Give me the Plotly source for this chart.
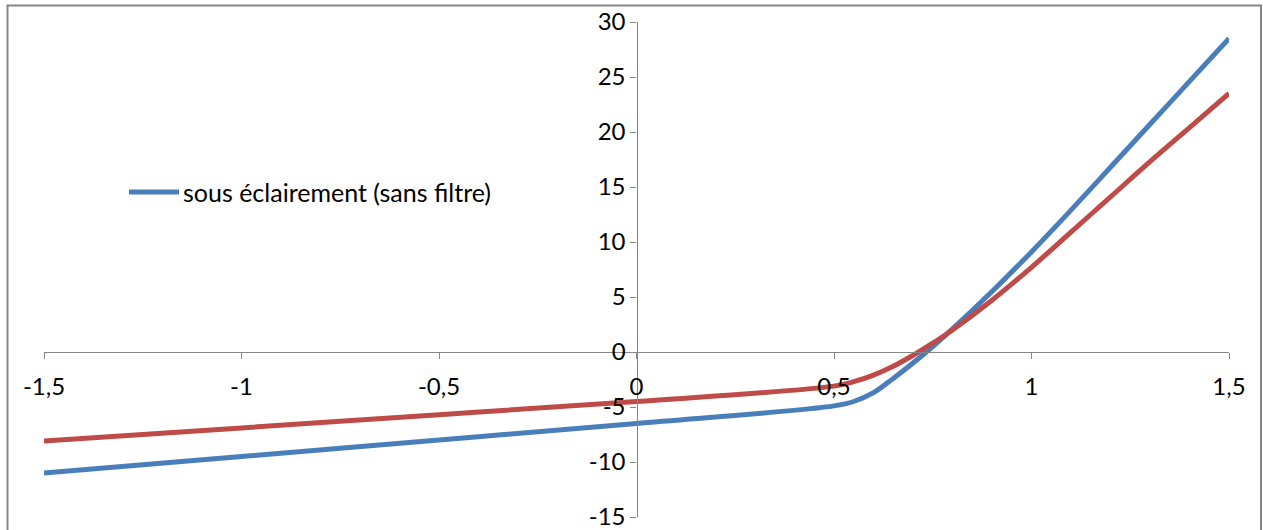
import plotly.graph_objects as go

# Data
x_vals = [-1.5, -1.0, -0.5, 0.0, 0.5, 0.55, 0.6, 0.65, 0.7, 0.75, 0.8, 0.9, 1.0, 1.1, 1.2, 1.3, 1.4, 1.5]
blue_vals = [-11.0, -9.5, -8.0, -6.5, -4.9, -4.5, -3.7, -2.4, -1.0, 0.5, 2.1, 5.5, 9.1, 12.9, 16.8, 20.7, 24.6, 28.5]
red_vals = [-8.1, -6.9, -5.7, -4.5, -3.1, -2.7, -2.1, -1.3, -0.3, 0.8, 2.0, 4.7, 7.7, 10.9, 14.1, 17.3, 20.4, 23.5]

blue_name = "sous éclairement (sans filtre)"
red_name = "sous éclairement (avec filtre)"

x_ticks = [-1.5, -1.0, -0.5, 0.0, 0.5, 1.0, 1.5]
x_tick_labels = ["-1,5", "-1", "-0,5", "0", "0,5", "1", "1,5"]
y_ticks = [-15, -10, -5, 0, 5, 10, 15, 20, 25, 30]
y_tick_labels = ["-15", "-10", "-5", "0", "5", "10", "15", "20", "25", "30"]

BLUE = "#4A7EBB"
RED = "#BE4B48"
AXIS = "#868686"
FONT = "Lato"
FS = 24

W, H = 1263, 530
L, R, T, B = 44, 34, 22, 13
pw, ph = W - L - R, H - T - B

def px_x(p):
    return (p - L) / pw

def px_y(p):
    return (H - B - p) / ph

fig = go.Figure()
fig.add_trace(go.Scatter(x=x_vals, y=blue_vals, mode="lines", name=blue_name,
                         line=dict(color=BLUE, width=5, shape="spline", smoothing=1.0),
                         showlegend=False))
fig.add_trace(go.Scatter(x=x_vals, y=red_vals, mode="lines", name=red_name,
                         line=dict(color=RED, width=5, shape="spline", smoothing=1.0),
                         showlegend=False))

y_min, y_max = -15, 30
x_min, x_max = -1.5, 1.5

fig.update_layout(
    width=W, height=H,
    margin=dict(l=L, r=R, t=T, b=B, pad=0, autoexpand=False),
    paper_bgcolor="white", plot_bgcolor="white",
    font=dict(family=FONT, size=FS, color="black"),
    showlegend=False,
    xaxis=dict(range=[x_min, x_max], tickvals=x_ticks, ticktext=x_tick_labels,
               showgrid=False, zeroline=False, showline=True, linecolor=AXIS, linewidth=1.3,
               ticks="outside", ticklen=6, tickcolor=AXIS, tickwidth=1.3,
               anchor="free", position=(0 - y_min) / (y_max - y_min), automargin=False,
               ticklabeloverflow="allow",
               ticklabelstandoff=7, tickfont=dict(family=FONT, size=FS, color="black")),
    yaxis=dict(range=[y_min, y_max], tickvals=y_ticks, ticktext=y_tick_labels,
               showgrid=False, zeroline=False, showline=True, linecolor=AXIS, linewidth=1.3,
               ticks="outside", ticklen=6, tickcolor=AXIS, tickwidth=1.3,
               anchor="free", position=(0 - x_min) / (x_max - x_min), automargin=False,
               ticklabeloverflow="allow",
               tickfont=dict(family=FONT, size=FS, color="black")),
)

# chart area border
fig.add_shape(type="rect", xref="paper", yref="paper",
              x0=px_x(7.5), x1=px_x(1261), y0=px_y(560), y1=px_y(5.5),
              line=dict(color=AXIS, width=2), fillcolor="rgba(0,0,0,0)", layer="below")

# manual legend entry (Excel style long line sample)
fig.add_shape(type="line", xref="paper", yref="paper",
              x0=px_x(129), x1=px_x(179), y0=px_y(192), y1=px_y(192),
              line=dict(color=BLUE, width=5))
fig.add_annotation(xref="paper", yref="paper", x=px_x(181), y=px_y(192),
                   text=blue_name, showarrow=False, xanchor="left", yanchor="middle",
                   font=dict(family=FONT, size=FS + 1, color="black"))

fig.write_html("out.html", config={"displayModeBar": False},
               post_script="document.body.style.margin='0';document.body.style.overflow='hidden';")
